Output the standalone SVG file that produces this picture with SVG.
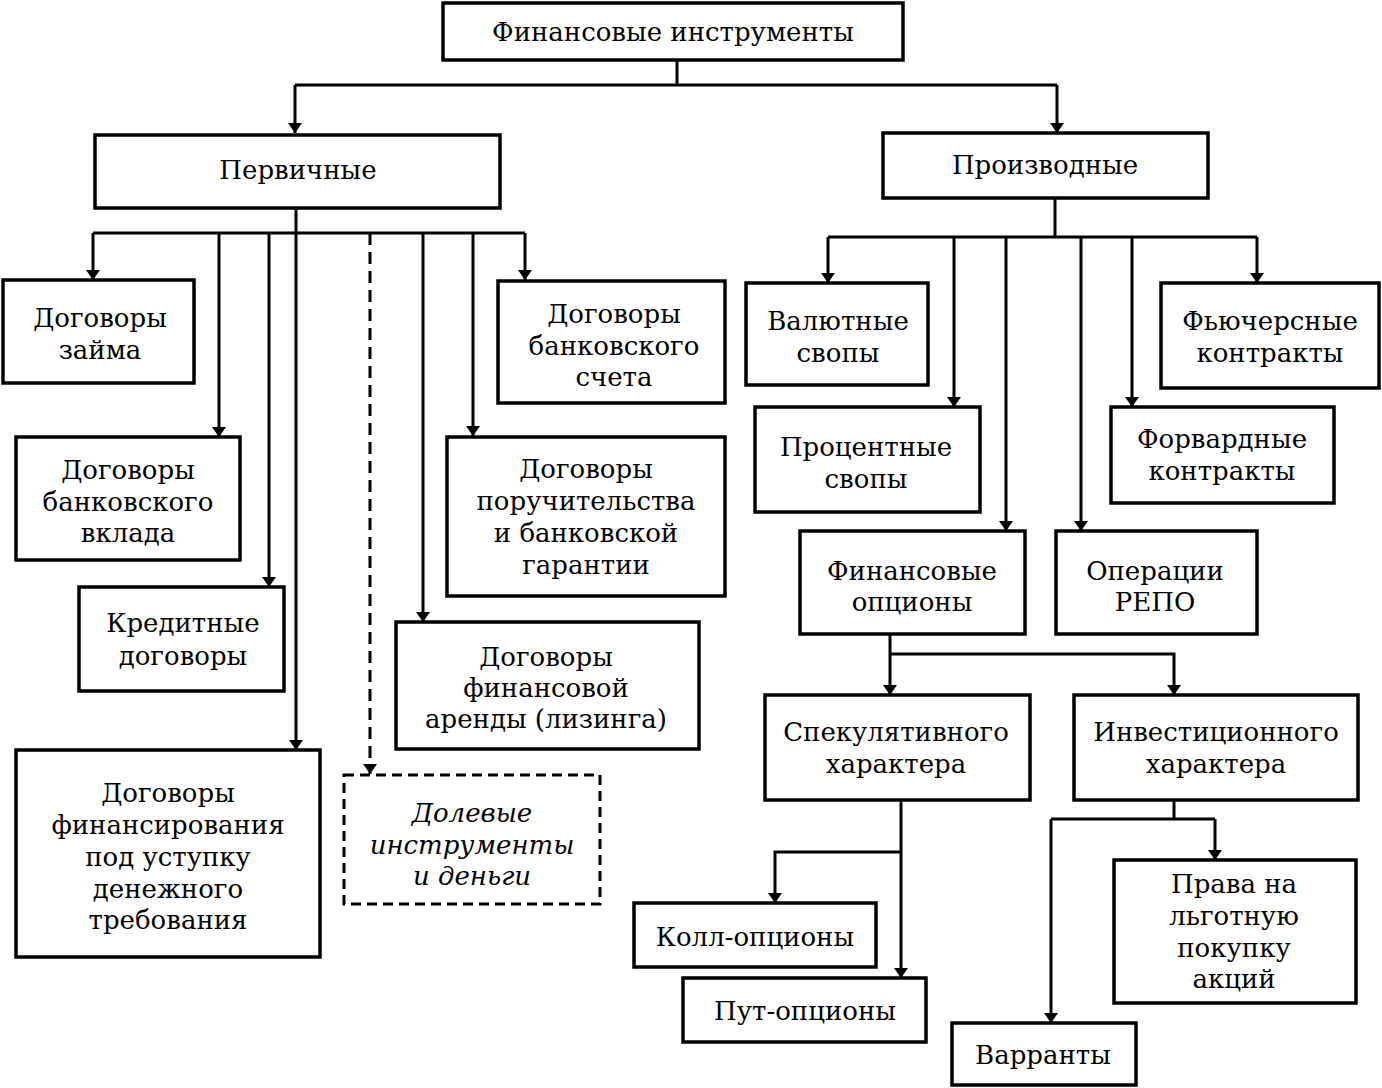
<svg xmlns="http://www.w3.org/2000/svg" width="1382" height="1088" viewBox="0 0 1382 1088">
<style>
.b{fill:#fff;stroke:#000;stroke-width:3.5}
.d{fill:#fff;stroke:#000;stroke-width:3;stroke-dasharray:10 6}
.c{fill:none;stroke:#000;stroke-width:3}
.cd{fill:none;stroke:#000;stroke-width:3;stroke-dasharray:12 7}
text{font-family:"DejaVu Serif","Liberation Serif",serif;font-size:26px;fill:#000;text-anchor:middle}
.i{font-style:italic}
</style>
<defs>
<marker id="a" markerUnits="userSpaceOnUse" markerWidth="10" markerHeight="14" refX="10" refY="5" orient="auto" viewBox="0 0 10 10" preserveAspectRatio="none">
<path d="M0,0 L10,5 L0,10 z" fill="#000"/>
</marker>
</defs>
<rect width="1382" height="1088" fill="#fff"/>
<g id="connectors">
<path class="c" d="M677,60 V85 M295,85 H1057"/>
<path class="c" d="M295,85 V133" marker-end="url(#a)"/>
<path class="c" d="M1057,85 V133" marker-end="url(#a)"/>
<path class="c" d="M93,233 H525"/>
<path class="c" d="M296,208 V750" marker-end="url(#a)"/>
<path class="c" d="M93,233 V280" marker-end="url(#a)"/>
<path class="c" d="M219,233 V437" marker-end="url(#a)"/>
<path class="c" d="M269,233 V587" marker-end="url(#a)"/>
<path class="c" d="M423,233 V622" marker-end="url(#a)"/>
<path class="c" d="M473,233 V436" marker-end="url(#a)"/>
<path class="c" d="M525,233 V280" marker-end="url(#a)"/>
<path class="cd" d="M370,233 V774" marker-end="url(#a)"/>
<path class="c" d="M1055,198 V237 M828,237 H1257"/>
<path class="c" d="M828,237 V283" marker-end="url(#a)"/>
<path class="c" d="M954,237 V407" marker-end="url(#a)"/>
<path class="c" d="M1006,237 V531" marker-end="url(#a)"/>
<path class="c" d="M1081,237 V531" marker-end="url(#a)"/>
<path class="c" d="M1132,237 V407" marker-end="url(#a)"/>
<path class="c" d="M1257,237 V283" marker-end="url(#a)"/>
<path class="c" d="M890,634 V695" marker-end="url(#a)"/>
<path class="c" d="M890,654 H1174 V695" marker-end="url(#a)"/>
<path class="c" d="M901,800 V978" marker-end="url(#a)"/>
<path class="c" d="M901,852 H775 V903" marker-end="url(#a)"/>
<path class="c" d="M1174,800 V819 M1051,819 H1215"/>
<path class="c" d="M1215,819 V860" marker-end="url(#a)"/>
<path class="c" d="M1051,819 V1023" marker-end="url(#a)"/>
</g>
<g id="root"><rect class="b" x="443" y="3" width="460" height="57"/><text x="673" y="41">Финансовые инструменты</text></g>
<g id="primary"><rect class="b" x="95" y="135" width="405" height="73"/><text x="298" y="179">Первичные</text></g>
<g id="derivative"><rect class="b" x="883" y="133" width="325" height="65"/><text x="1045" y="174">Производные</text></g>
<g id="loan"><rect class="b" x="3" y="280" width="191" height="103"/><text x="100" y="327">Договоры</text><text x="100" y="359">займа</text></g>
<g id="deposit"><rect class="b" x="16" y="437" width="224" height="123"/><text x="128" y="479">Договоры</text><text x="128" y="511">банковского</text><text x="128" y="542">вклада</text></g>
<g id="credit"><rect class="b" x="79" y="587" width="205" height="104"/><text x="183" y="632">Кредитные</text><text x="183" y="665">договоры</text></g>
<g id="factoring"><rect class="b" x="16" y="750" width="304" height="207"/><text x="168" y="802">Договоры</text><text x="168" y="834">финансирования</text><text x="168" y="866">под уступку</text><text x="168" y="898">денежного</text><text x="168" y="929">требования</text></g>
<g id="equity"><rect class="d" x="344" y="775" width="256" height="129"/><text class="i" x="472" y="822">Долевые</text><text class="i" x="472" y="854">инструменты</text><text class="i" x="472" y="885">и деньги</text></g>
<g id="leasing"><rect class="b" x="396" y="622" width="303" height="127"/><text x="546" y="666">Договоры</text><text x="546" y="697">финансовой</text><text x="546" y="728">аренды (лизинга)</text></g>
<g id="guarantee"><rect class="b" x="447" y="437" width="278" height="159"/><text x="586" y="478">Договоры</text><text x="586" y="510">поручительства</text><text x="586" y="542">и банковской</text><text x="586" y="574">гарантии</text></g>
<g id="account"><rect class="b" x="498" y="281" width="227" height="122"/><text x="614" y="323">Договоры</text><text x="614" y="355">банковского</text><text x="614" y="386">счета</text></g>
<g id="fxswap"><rect class="b" x="746" y="283" width="182" height="102"/><text x="838" y="330">Валютные</text><text x="838" y="362">свопы</text></g>
<g id="futures"><rect class="b" x="1161" y="283" width="218" height="105"/><text x="1270" y="330">Фьючерсные</text><text x="1270" y="362">контракты</text></g>
<g id="irswap"><rect class="b" x="755" y="407" width="225" height="105"/><text x="866" y="456">Процентные</text><text x="866" y="488">свопы</text></g>
<g id="forward"><rect class="b" x="1111" y="407" width="223" height="96"/><text x="1222" y="448">Форвардные</text><text x="1222" y="480">контракты</text></g>
<g id="options"><rect class="b" x="800" y="531" width="225" height="103"/><text x="912" y="580">Финансовые</text><text x="912" y="611">опционы</text></g>
<g id="repo"><rect class="b" x="1056" y="531" width="201" height="103"/><text x="1155" y="580">Операции</text><text x="1155" y="611">РЕПО</text></g>
<g id="spec"><rect class="b" x="765" y="695" width="265" height="105"/><text x="896" y="741">Спекулятивного</text><text x="896" y="773">характера</text></g>
<g id="invest"><rect class="b" x="1074" y="695" width="284" height="105"/><text x="1216" y="741">Инвестиционного</text><text x="1216" y="773">характера</text></g>
<g id="call"><rect class="b" x="634" y="903" width="242" height="64"/><text x="755" y="946">Колл-опционы</text></g>
<g id="put"><rect class="b" x="683" y="978" width="243" height="64"/><text x="805" y="1020">Пут-опционы</text></g>
<g id="rights"><rect class="b" x="1114" y="860" width="242" height="143"/><text x="1234" y="893">Права на</text><text x="1234" y="925">льготную</text><text x="1234" y="957">покупку</text><text x="1234" y="988">акций</text></g>
<g id="warrants"><rect class="b" x="952" y="1023" width="184" height="62"/><text x="1043" y="1064">Варранты</text></g>
</svg>
